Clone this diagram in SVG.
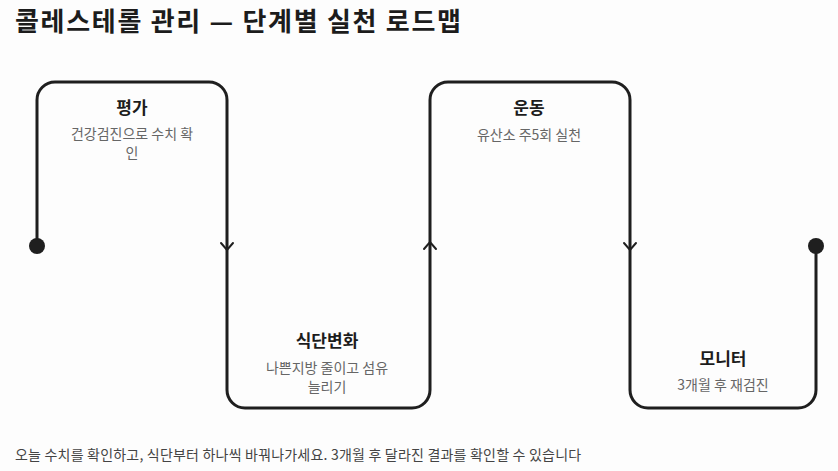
<svg xmlns="http://www.w3.org/2000/svg" width="838" height="471" viewBox="0 0 838 471">
<style>
text{font-family:"Noto Sans CJK KR","Noto Sans",sans-serif}
.title{font-size:26px;font-weight:700;fill:#1c1c1c;letter-spacing:1.7px}
.nt{font-size:17px;font-weight:700;fill:#1c1c1c;text-anchor:middle}
.nd{font-size:14px;fill:#666;text-anchor:middle}
.foot{font-size:14px;fill:#444;letter-spacing:0.2px}
.line{fill:none;stroke:#1f1f1f;stroke-width:3;stroke-linejoin:round;stroke-linecap:round}
.arr{fill:none;stroke:#1f1f1f;stroke-width:2;stroke-linejoin:miter;stroke-linecap:round}
.dot{fill:#1f1f1f}
</style>
<rect width="838" height="471" fill="#fdfdfd"/>
<text class="title" x="15" y="30.5">콜레스테롤 관리 — 단계별 실천 로드맵</text>
<g id="connectors">
<path class="line" d="M37,246 V100 A18,18 0 0 1 55,82 H209 A18,18 0 0 1 227,100 V390 A18,18 0 0 0 245,408 H412 A18,18 0 0 0 430,390 V100 A18,18 0 0 1 448,82 H612 A18,18 0 0 1 630,100 V390 A18,18 0 0 0 648,408 H798 A18,18 0 0 0 816,390 V246"/>
<circle class="dot" cx="37" cy="246" r="8"/>
<circle class="dot" cx="816" cy="246" r="8"/>
<polyline class="arr" points="221,243 227,250 233,243"/>
<polyline class="arr" points="424,249 430,242 436,249"/>
<polyline class="arr" points="624,243 630,250 636,243"/>
</g>
<g id="node-1">
<text class="nt" x="132" y="114">평가</text>
<text class="nd" x="132" y="139">건강검진으로 수치 확</text>
<text class="nd" x="132" y="158">인</text>
</g>
<g id="node-2">
<text class="nt" x="327" y="347">식단변화</text>
<text class="nd" x="327" y="373">나쁜지방 줄이고 섬유</text>
<text class="nd" x="327" y="392">늘리기</text>
</g>
<g id="node-3">
<text class="nt" x="529" y="114">운동</text>
<text class="nd" x="529" y="140">유산소 주5회 실천</text>
</g>
<g id="node-4">
<text class="nt" x="723" y="365">모니터</text>
<text class="nd" x="723" y="390">3개월 후 재검진</text>
</g>
<text class="foot" x="15" y="460">오늘 수치를 확인하고, 식단부터 하나씩 바꿔나가세요. 3개월 후 달라진 결과를 확인할 수 있습니다</text>
</svg>
